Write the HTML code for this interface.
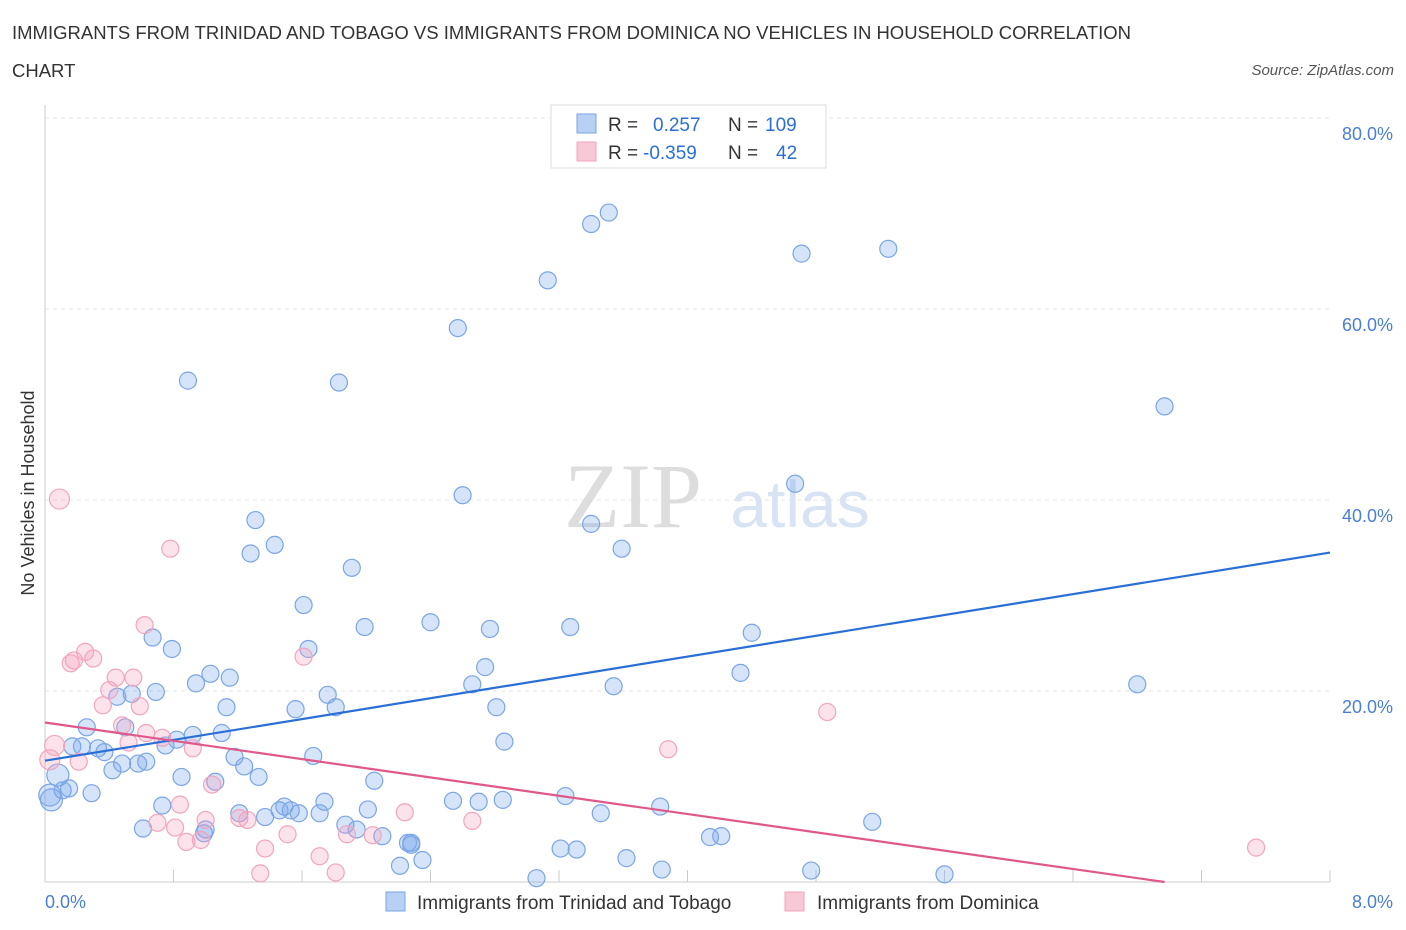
<!DOCTYPE html>
<html><head><meta charset="utf-8"><style>
body{margin:0;background:#fff;font-family:"Liberation Sans",sans-serif;}
#wrap{position:relative;width:1406px;height:930px;overflow:hidden;}
.t{position:absolute;color:#333;}
</style></head><body>
<div id="wrap">
<div class="t" style="left:12px;top:14px;font-size:18.5px;line-height:38px;width:1160px;">IMMIGRANTS FROM TRINIDAD AND TOBAGO VS IMMIGRANTS FROM DOMINICA NO VEHICLES IN HOUSEHOLD CORRELATION CHART</div>
<div class="t" style="right:12px;top:62px;font-size:15px;font-style:italic;color:#555;">Source: ZipAtlas.com</div>
<svg id="svg" width="1406" height="930" style="position:absolute;left:0;top:0"></svg>
</div>
<script>
const xTicks=[0,8];
const yTicks=[20,40,60,80];
const blueX=[];const blueY=[];const pinkX=[];const pinkY=[];
const bluePts=[[0.04,8.6],[0.03,9.1],[0.08,11.2],[0.11,9.6],[0.15,9.8],[0.29,9.3],[0.17,14.2],[0.23,14.2],[0.26,16.2],[0.33,14.0],[0.37,13.6],[0.42,11.7],[0.45,19.4],[0.50,16.2],[0.54,19.7],[0.48,12.4],[0.58,12.4],[0.63,12.6],[0.61,5.6],[0.67,25.6],[0.69,19.9],[0.73,8.0],[0.75,14.3],[0.79,24.4],[0.82,14.9],[0.85,11.0],[0.89,52.5],[0.92,15.4],[0.94,20.8],[0.99,5.1],[1.00,5.5],[1.03,21.8],[1.06,10.5],[1.10,15.6],[1.13,18.3],[1.15,21.4],[1.18,13.1],[1.21,7.2],[1.24,12.1],[1.28,34.4],[1.31,37.9],[1.33,11.0],[1.37,6.8],[1.43,35.3],[1.46,7.5],[1.49,7.9],[1.53,7.5],[1.56,18.1],[1.58,7.2],[1.61,29.0],[1.64,24.4],[1.67,13.2],[1.71,7.2],[1.74,8.4],[1.76,19.6],[1.81,18.3],[1.83,52.3],[1.87,6.0],[1.91,32.9],[1.94,5.5],[1.99,26.7],[2.01,7.6],[2.05,10.6],[2.10,4.8],[2.21,1.7],[2.26,4.1],[2.28,4.1],[2.35,2.3],[2.40,27.2],[2.54,8.5],[2.57,58.0],[2.60,40.5],[2.66,20.7],[2.70,8.4],[2.74,22.5],[2.77,26.5],[2.81,18.3],[2.85,8.6],[2.86,14.7],[3.06,0.4],[3.21,3.5],[3.24,9.0],[3.27,26.7],[3.31,3.4],[3.40,37.5],[3.40,68.9],[3.46,7.2],[3.51,70.1],[3.54,20.5],[3.59,34.9],[3.62,2.5],[3.13,63.0],[3.83,7.9],[3.84,1.3],[4.14,4.7],[4.21,4.8],[4.33,21.9],[4.40,26.1],[4.67,41.7],[4.71,65.8],[4.77,1.2],[5.15,6.3],[5.25,66.3],[5.60,0.8],[6.80,20.7],[6.97,49.8],[2.28,3.9]];
const pinkPts=[[0.06,14.3],[0.09,40.1],[0.16,22.9],[0.21,12.6],[0.18,23.2],[0.25,24.1],[0.30,23.4],[0.36,18.5],[0.40,20.1],[0.44,21.4],[0.48,16.4],[0.52,14.6],[0.55,21.4],[0.59,18.4],[0.63,15.6],[0.70,6.2],[0.73,15.1],[0.78,34.9],[0.81,5.7],[0.84,8.1],[0.88,4.2],[0.92,14.0],[0.97,4.4],[1.00,6.5],[1.04,10.2],[1.21,6.7],[1.26,6.5],[1.34,0.9],[1.37,3.5],[1.51,5.0],[1.61,23.6],[1.71,2.7],[1.81,1.0],[1.88,5.0],[2.04,4.9],[2.24,7.3],[2.66,6.4],[3.88,13.9],[4.87,17.8],[7.54,3.6],[0.62,26.9],[0.03,12.8]];
bluePts.forEach(p=>{blueX.push(p[0]);blueY.push(p[1]);});
pinkPts.forEach(p=>{pinkX.push(p[0]);pinkY.push(p[1]);});
const blueLine=[12.7,34.5];const pinkLine=[16.7,0];const pinkLineEnd=6.97;
const X=v=>45+v/8*1285;
const Y=v=>882-v/20*191;
const svg=document.getElementById('svg');const NS='http://www.w3.org/2000/svg';
function el(tag,attrs,name,txt){const e=document.createElementNS(NS,tag);for(const k in attrs)e.setAttribute(k,attrs[k]);


if(txt!==undefined)e.textContent=txt;svg.appendChild(e);return e;}
yTicks.forEach(v=>{el('line',{x1:45,x2:1330,y1:Y(v),y2:Y(v),stroke:'#e4e4e4','stroke-dasharray':'4,4'},'gridline');
el('text',{x:1393,y:Y(v)+22,'text-anchor':'end','font-size':18,fill:'#4a7fd4'},'y-tick-label',v.toFixed(1)+'%');});
el('line',{x1:45,x2:45,y1:105,y2:882,stroke:'#ccc'},'y-axis');
el('line',{x1:45,x2:1330,y1:882,y2:882,stroke:'#ccc'},'x-axis');
for(let i=1;i<=10;i++)el('line',{x1:X(i*0.8),x2:X(i*0.8),y1:882,y2:870,stroke:'#ccc'},'x-tick');
el('text',{x:45,y:908,'font-size':18,fill:'#4a7fd4'},'x-tick-label',xTicks[0].toFixed(1)+'%');
el('text',{x:1393,y:908,'text-anchor':'end','font-size':18,fill:'#4a7fd4'},'x-tick-label',xTicks[1].toFixed(1)+'%');
el('text',{x:34,y:493,'text-anchor':'middle','font-size':18,fill:'#333',transform:'rotate(-90 34 493)'},'y-axis-title','No Vehicles in Household');
el('text',{x:633,y:527,'text-anchor':'middle','font-size':92,fill:'#ddd','font-family':'Liberation Serif'},'watermark-zip','ZIP');
el('text',{x:800,y:527,'text-anchor':'middle','font-size':66,fill:'#d8e4f4'},'watermark-atlas','atlas');
blueX.forEach((x,i)=>{el('circle',{cx:X(x),cy:Y(blueY[i]),r:x<0.1?11:8.5,fill:'rgba(120,165,235,0.3)',stroke:'#7aa5e6','stroke-width':1.2},'blue-point');});
pinkX.forEach((x,i)=>{el('circle',{cx:X(x),cy:Y(pinkY[i]),r:x<0.1?10:8.5,fill:'rgba(245,160,190,0.3)',stroke:'#f2a5bd','stroke-width':1.2},'pink-point');});
el('line',{x1:X(0),y1:Y(blueLine[0]),x2:X(8),y2:Y(blueLine[1]),stroke:'#2a6fd6','stroke-width':2.2},'blue-trend-line');
el('line',{x1:X(0),y1:Y(pinkLine[0]),x2:X(pinkLineEnd),y2:Y(pinkLine[1]),stroke:'#e0588a','stroke-width':2.2},'pink-trend-line');
el('rect',{x:551,y:105,width:275,height:63,fill:'#fff',stroke:'#ddd'},'legend-box');
el('rect',{x:577,y:114,width:19,height:19,fill:'#b8d0f4',stroke:'#7aa5e6'},'legend-swatch-blue');
el('rect',{x:577,y:142,width:19,height:19,fill:'#f8c8d6',stroke:'#f2a5bd'},'legend-swatch-pink');
el('text',{x:608,y:131,'font-size':19,fill:'#333'},'legend-r-label','R =');
el('text',{x:653,y:131,'font-size':19,fill:'#2a6fd6'},'legend-r-blue','0.257');
el('text',{x:728,y:131,'font-size':19,fill:'#333'},'legend-n-label','N =');
el('text',{x:765,y:131,'font-size':19,fill:'#2a6fd6'},'legend-n-blue','109');
el('text',{x:608,y:159,'font-size':19,fill:'#333'},'legend-r-label','R =');
el('text',{x:643,y:159,'font-size':19,fill:'#2a6fd6'},'legend-r-pink','-0.359');
el('text',{x:728,y:159,'font-size':19,fill:'#333'},'legend-n-label','N =');
el('text',{x:776,y:159,'font-size':19,fill:'#2a6fd6'},'legend-n-pink','42');
el('rect',{x:386,y:892,width:19,height:19,fill:'#b8d0f4',stroke:'#7aa5e6'},'bottom-legend-swatch-blue');
el('text',{x:417,y:909,'font-size':19,fill:'#333'},'bottom-legend-blue','Immigrants from Trinidad and Tobago');
el('rect',{x:785,y:892,width:19,height:19,fill:'#f8c8d6',stroke:'#f2a5bd'},'bottom-legend-swatch-pink');
el('text',{x:817,y:909,'font-size':19,fill:'#333'},'bottom-legend-pink','Immigrants from Dominica');
</script>
</body></html>
